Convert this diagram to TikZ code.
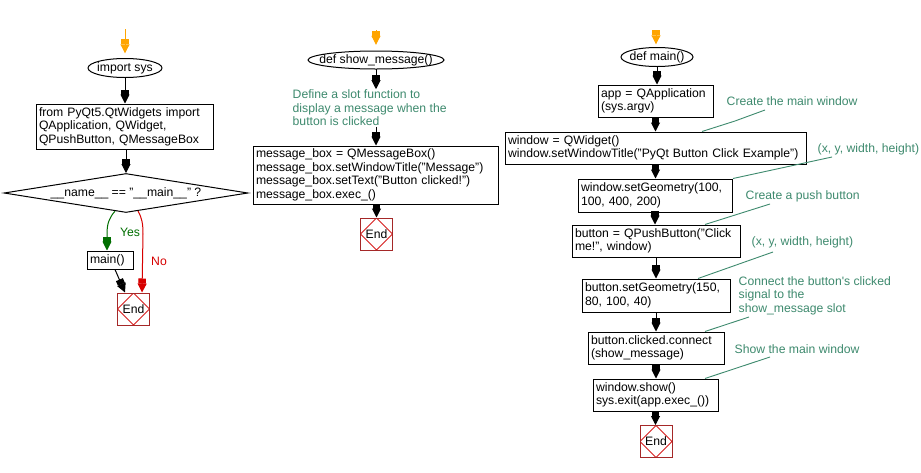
\documentclass[tikz,border=0pt]{standalone}
\usepackage{fontspec}
\setmainfont{Liberation Sans}
\usetikzlibrary{arrows.meta,shapes.geometric,calc}
\definecolor{cmt}{RGB}{62,138,110}
\definecolor{endbr}{RGB}{165,40,40}
\definecolor{endrd}{RGB}{215,30,30}
\definecolor{yesg}{RGB}{0,110,0}
\definecolor{nor}{RGB}{215,0,0}
\definecolor{orng}{RGB}{255,165,0}
\begin{document}
\begin{tikzpicture}[x=1pt,y=-1pt,
  font=\fontsize{12.2}{13.6}\selectfont,
  box/.style={draw, line width=1pt, align=left, inner xsep=3pt, inner ysep=0pt, anchor=center},
  ellnode/.style={inner sep=0pt, anchor=center},
  ellline/.style={line width=1pt},
  tipshape/.style={-{Rectangle[length=5pt,width=7.5pt]Triangle[length=9pt,width=9pt]}},
  arr/.style={line width=1pt, tipshape},
  oarr/.style={line width=1pt, draw=orng, tipshape},
  yarr/.style={line width=1pt, draw=yesg, tipshape},
  narr/.style={line width=1pt, draw=nor, tipshape},
  cmtnode/.style={text=cmt, align=left, anchor=west, inner sep=0.5pt},
  cline/.style={draw=cmt, line width=0.9pt},
  endn/.style={draw=endbr, line width=1pt, minimum width=32pt, minimum height=32pt, inner sep=0pt,
    path picture={\draw[endrd, line width=0.8pt] (path picture bounding box.north) -- (path picture bounding box.east) -- (path picture bounding box.south) -- (path picture bounding box.west) -- cycle;}}
]
\fill[white] (0,0) rectangle (921,472);
\useasboundingbox (0,0) rectangle (921,472);

% ---------- column 1 ----------
\coordinate (s1) at (125,29);
\node[ellnode, minimum width=74pt, minimum height=19pt] (imp) at (125,68) {import sys};
\draw[ellline] (imp.center) ellipse [x radius=37pt, y radius=9.5pt];
\node[box, text width=171pt, minimum height=45pt] (b1) at (124.5,126.5) {from PyQt5.QtWidgets import\\QApplication, QWidget,\\QPushButton, QMessageBox};
\node[draw, line width=1pt, diamond, aspect=6.26, minimum width=244pt, minimum height=39pt, inner sep=0pt] (dia) at (126,193) {\_\_name\_\_ == "\_\_main\_\_" ?};
\node[box, text width=40pt, minimum height=18pt] (mc) at (110,260) {main()};
\node[endn] (e1) at (133.5,309) {End};

\draw[oarr, shorten >=5pt] (s1) -- (imp.north);
\draw[arr] (imp.south) -- (imp.south |- b1.north);
\draw[arr] (dia.north |- b1.south) -- (dia.north);
\draw[yarr] ($(dia.south)!0.09!(dia.west)$) .. controls (109,218) and (107,224) .. (107,234) -- ($(mc.north)+(-3,0)$);
\draw[narr] ($(dia.south)!0.098!(dia.east)$) .. controls (142,218) and (143,224) .. (143,234) -- ($(e1.north)+(8.5,0)$);
\draw[arr] ($(mc.south)+(5,0)$) -- ($(e1.north)+(-8.5,0)$);
\node[text=yesg, anchor=center, inner sep=0pt] (yes) at (130,232) {Yes};
\node[text=nor, anchor=center, inner sep=0pt] (no) at (159,261) {No};

% ---------- column 2 ----------
\coordinate (s2) at (376,30);
\node[ellnode, minimum width=136pt, minimum height=18pt] (sm) at (376,60) {def show\_message()};
\draw[ellline] (sm.center) ellipse [x radius=68pt, y radius=9pt];
\node[cmtnode] (c1) at (292,108) {Define a slot function to\\display a message when the\\button is clicked};
\node[box, text width=239pt, minimum height=58pt] (msg) at (375.5,175) {message\_box = QMessageBox()\\message\_box.setWindowTitle("Message")\\message\_box.setText("Button clicked!")\\message\_box.exec\_()};
\node[endn] (e2) at (376.5,234) {End};

\draw[oarr, shorten >=6pt] (s2) -- (sm.north);
\draw[arr] (sm.south) -- (sm.south |- c1.north);
\draw[arr] (sm.south |- c1.south) -- (sm.south |- msg.north);
\draw[arr] (msg.south -| e2.north) -- (e2.north);

% ---------- column 3 ----------
\coordinate (s3) at (656,30);
\node[ellnode, minimum width=72pt, minimum height=19pt] (mn) at (657,57) {def main()};
\draw[ellline] (mn.center) ellipse [x radius=36pt, y radius=9.5pt];
\node[box, text width=109pt, minimum height=32pt] (app) at (655.5,101) {app = QApplication\\(sys.argv)};
\node[box, text width=295pt, minimum height=32pt] (win) at (655.5,148) {window = QWidget()\\window.setWindowTitle("PyQt Button Click Example")};
\node[box, text width=148pt, minimum height=33pt] (geo) at (655,195.5) {window.setGeometry(100,\\100, 400, 200)};
\node[box, text width=162pt, minimum height=32pt] (btn) at (656,241) {button = QPushButton("Click\\me!", window)};
\node[box, text width=142pt, minimum height=33pt] (bgeo) at (656,295.5) {button.setGeometry(150,\\80, 100, 40)};
\node[box, text width=130pt, minimum height=32pt] (conn) at (656,348) {button.clicked.connect\\(show\_message)};
\node[box, text width=119pt, minimum height=32pt] (show) at (655.5,395) {window.show()\\sys.exit(app.exec\_())};
\node[endn] (e3) at (656,441.5) {End};

\draw[oarr, shorten >=3pt] (s3) -- (s3 |- mn.north);
\draw[arr] (mn.south) -- (mn.south |- app.north);
\draw[arr] (app.south) -- (app.south |- win.north);
\draw[arr] (win.south) -- (win.south |- geo.north);
\draw[arr] (geo.south) -- (geo.south |- btn.north);
\draw[arr] (btn.south) -- (btn.south |- bgeo.north);
\draw[arr] (bgeo.south) -- (bgeo.south |- conn.north);
\draw[arr] (conn.south) -- (conn.south |- show.north);
\draw[arr] (show.south) -- (show.south |- e3.north);

% comments
\node[cmtnode] (c2) at (726,101) {Create the main window};
\node[cmtnode] (c3) at (817,149) {(x, y, width, height)};
\node[cmtnode] (c4) at (745,196) {Create a push button};
\node[cmtnode] (c5) at (751,242) {(x, y, width, height)};
\node[cmtnode] (c6) at (738,295.5) {Connect the button\textquotesingle s clicked\\signal to the\\show\_message slot};
\node[cmtnode] (c7) at (734,349) {Show the main window};

\coordinate (k2) at (765,110);
\coordinate (k3) at (832,157);
\coordinate (k4) at (770,204);
\coordinate (k5) at (773,252);
\coordinate (k6) at (749,317);
\coordinate (k7) at (770,357);
\draw[cline] (win.north -| 702,0) -- (735,121) -- (k2);
\draw[cline] (geo.north -| 733,0) -- (k3);
\draw[cline] (btn.north -| 705,0) -- (k4);
\draw[cline] (bgeo.north -| 698,0) -- (k5);
\draw[cline] (conn.north -| 705,0) -- (k6);
\draw[cline] (show.north -| 705,0) -- (k7);
\end{tikzpicture}
\end{document}
